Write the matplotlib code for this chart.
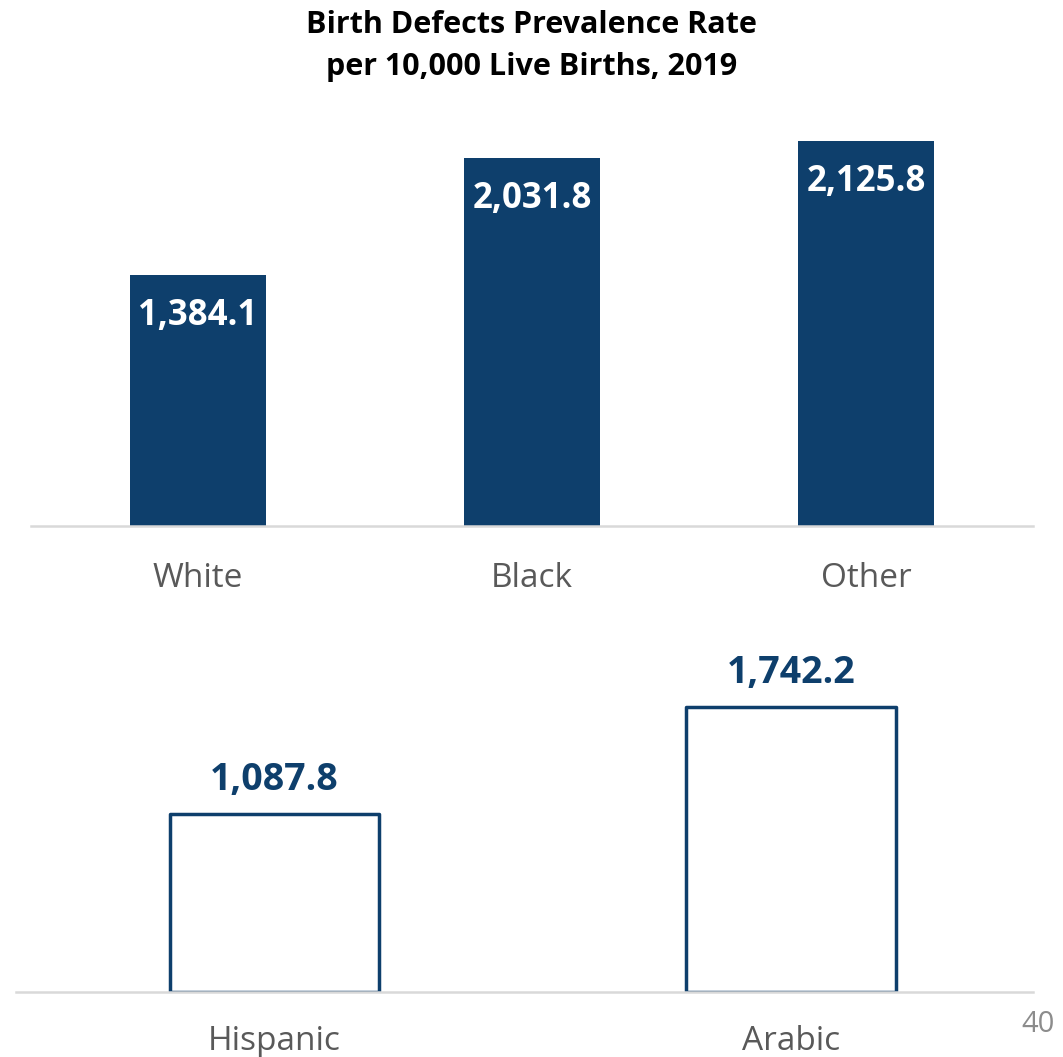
import matplotlib.pyplot as plt

plt.rcParams["font.family"] = ["Open Sans", "DejaVu Sans"]

race = ["White", "Black", "Other"]
race_rate = [1384.1, 2031.8, 2125.8]
ethnicity = ["Hispanic", "Arabic"]
eth_rate = [1087.8, 1742.2]

navy = "#0E3F6C"
W, H = 1063, 1057
fig = plt.figure(figsize=(W / 100, H / 100), dpi=100)

fig.text(0.5, 1 - 46 / H, "Birth Defects Prevalence Rate\nper 10,000 Live Births, 2019",
         ha="center", va="center", fontsize=22, fontweight="bold", linespacing=1.55)

# top panel: race
ax1 = fig.add_axes([31 / W, 1 - 526 / H, (1033 - 31) / W, 426 / H])
x1 = range(len(race))
ax1.bar(x1, race_rate, width=0.41, color=navy)
ax1.set_xlim(-0.5, 2.5)
ax1.set_ylim(0, 426 / 0.1813)
for x, v in zip(x1, race_rate):
    ax1.annotate(f"{v:,.1f}", (x, v), xytext=(0, -41), textcoords="offset pixels",
                 ha="center", va="center", color="white", fontsize=25, fontweight="bold")

# bottom panel: ethnicity
ax2 = fig.add_axes([16 / W, 1 - 992 / H, (1033 - 16) / W, 340 / H])
x2 = range(len(ethnicity))
ax2.bar(x2, eth_rate, width=0.405, facecolor="white", edgecolor=navy, linewidth=2.5,
        joinstyle="round")
ax2.set_xlim(-0.5005, 1.4685)
ax2.set_ylim(0, 340 / 0.1636)
for x, v in zip(x2, eth_rate):
    ax2.annotate(f"{v:,.1f}", (x, v), xytext=(0, 34), textcoords="offset pixels",
                 ha="center", va="center", color=navy, fontsize=27, fontweight="bold")

for ax, labels, pad in ((ax1, race, 26), (ax2, ethnicity, 24)):
    ax.set_xticks(range(len(labels)))
    ax.set_xticklabels(labels, fontsize=24, color="#595959")
    ax.tick_params(axis="x", length=0, pad=pad)
    ax.set_yticks([])
    for s in ("top", "right", "left"):
        ax.spines[s].set_visible(False)
    ax.spines["bottom"].set_color("#D9D9D9")
    ax.spines["bottom"].set_linewidth(1.8)
    ax.set_facecolor("none")

fig.text(1038 / W, 1 - 1025 / H, "40", ha="center", va="center", fontsize=21, color="#8C8C8C")

fig.savefig("out.png", dpi=100)
